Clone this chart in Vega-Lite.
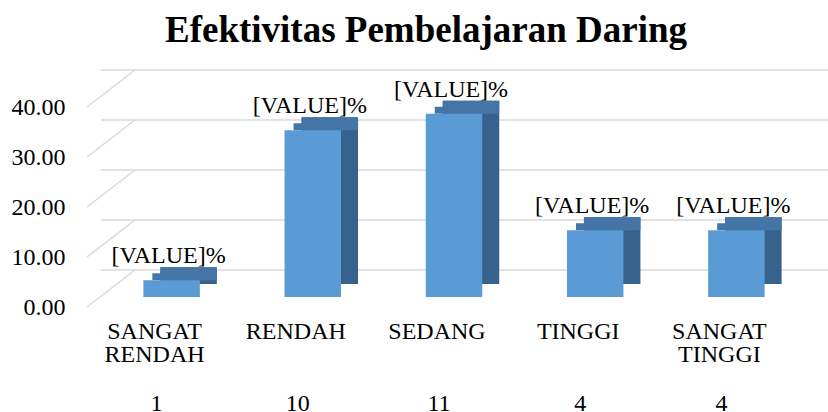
{
  "$schema": "https://vega.github.io/schema/vega-lite/v6.json",
  "width": 706,
  "height": 200,
  "autosize": "none",
  "padding": {"left": 101, "top": 97, "right": 21, "bottom": 115},
  "background": "white",
  "config": {"view": {"stroke": null}, "font": "Liberation Serif"},
  "title": {"text": "Efektivitas Pembelajaran Daring", "fontSize": 37, "font": "Liberation Serif", "fontWeight": "bold", "color": "black", "offset": 19, "anchor": "middle", "dx": -28},
  "datasets": {
    "bars": [
      {"kategori": "SANGAT RENDAH", "n": 1, "pct": 3.33},
      {"kategori": "RENDAH", "n": 10, "pct": 33.33},
      {"kategori": "SEDANG", "n": 11, "pct": 36.67},
      {"kategori": "TINGGI", "n": 4, "pct": 13.33},
      {"kategori": "SANGAT TINGGI", "n": 4, "pct": 13.33}
    ],
    "grid": [{"g": 0}, {"g": 10}, {"g": 20}, {"g": 30}, {"g": 40}]
  },
  "layer": [
    {
      "data": {"name": "grid"},
      "mark": {"type": "rule", "color": "#d9d9d9", "strokeWidth": 1.5, "yOffset": -27, "xOffset": 34, "x2Offset": 30, "clip": false},
      "encoding": {
        "y": {"field": "g", "type": "quantitative", "scale": {"domain": [0, 40], "nice": false}, "axis": {"values": [0, 10, 20, 30, 40], "format": ".2f", "grid": false, "domain": false, "ticks": false, "labelPadding": 36, "labelFontSize": 24, "labelColor": "black", "labelFont": "Liberation Serif", "labelOffset": 10, "title": null}}
      }
    },
    {
      "data": {"name": "grid"},
      "mark": {"type": "rule", "color": "#d9d9d9", "strokeWidth": 1.5, "yOffset": 10, "y2Offset": -27, "xOffset": -84.6, "x2Offset": -36.6, "clip": false},
      "encoding": {
        "x": {"datum": "SANGAT RENDAH", "type": "nominal"},
        "x2": {"datum": "SANGAT RENDAH"},
        "y": {"field": "g", "type": "quantitative"},
        "y2": {"field": "g"}
      }
    },
    {
      "data": {"name": "bars"},
      "mark": {"type": "bar", "color": "#37628C", "xOffset": 17, "yOffset": -13, "y2Offset": -13, "clip": false},
      "encoding": {
        "x": {"field": "kategori", "type": "nominal", "sort": null},
        "y": {"field": "pct", "type": "quantitative"},
        "y2": {"datum": 0}
      }
    },
    {
      "data": {"name": "bars"},
      "mark": {"type": "bar", "color": "#4475A6", "xOffset": 17, "yOffset": -13, "y2Offset": 0, "clip": false},
      "encoding": {
        "x": {"field": "kategori", "type": "nominal", "sort": null},
        "y": {"field": "pct", "type": "quantitative"},
        "y2": {"field": "pct"}
      }
    },
    {
      "data": {"name": "bars"},
      "mark": {"type": "bar", "color": "#4475A6", "xOffset": 9, "yOffset": -7, "y2Offset": 0, "clip": false},
      "encoding": {
        "x": {"field": "kategori", "type": "nominal", "sort": null},
        "y": {"field": "pct", "type": "quantitative"},
        "y2": {"field": "pct"}
      }
    },
    {
      "data": {"name": "bars"},
      "mark": {"type": "bar", "color": "#5B9BD5"},
      "encoding": {
        "x": {"field": "kategori", "type": "nominal", "sort": null, "scale": {"paddingInner": 0.6, "paddingOuter": 0.3}, "axis": {"title": null, "domain": false, "ticks": false, "labelAngle": 0, "labelAlign": "center", "labelPadding": 22, "labelFontSize": 24, "labelColor": "black", "labelFont": "Liberation Serif", "labelLineHeight": 23, "labelBaseline": "top", "labelOffset": -17, "labelExpr": "split(datum.label, ' ')"}},
        "y": {"field": "pct", "type": "quantitative"}
      }
    },
    {
      "data": {"name": "bars"},
      "mark": {"type": "text", "fontSize": 24, "font": "Liberation Serif", "color": "black", "dy": -17, "dx": -3, "baseline": "alphabetic", "clip": false},
      "encoding": {
        "x": {"field": "kategori", "type": "nominal", "sort": null},
        "y": {"field": "pct", "type": "quantitative"},
        "text": {"value": "[VALUE]%"}
      }
    },
    {
      "data": {"name": "bars"},
      "mark": {"type": "text", "fontSize": 24, "font": "Liberation Serif", "color": "black", "dy": 114, "dx": -15, "baseline": "alphabetic", "clip": false},
      "encoding": {
        "x": {"field": "kategori", "type": "nominal", "sort": null},
        "y": {"datum": 0, "type": "quantitative"},
        "text": {"field": "n", "type": "quantitative"}
      }
    }
  ]
}
